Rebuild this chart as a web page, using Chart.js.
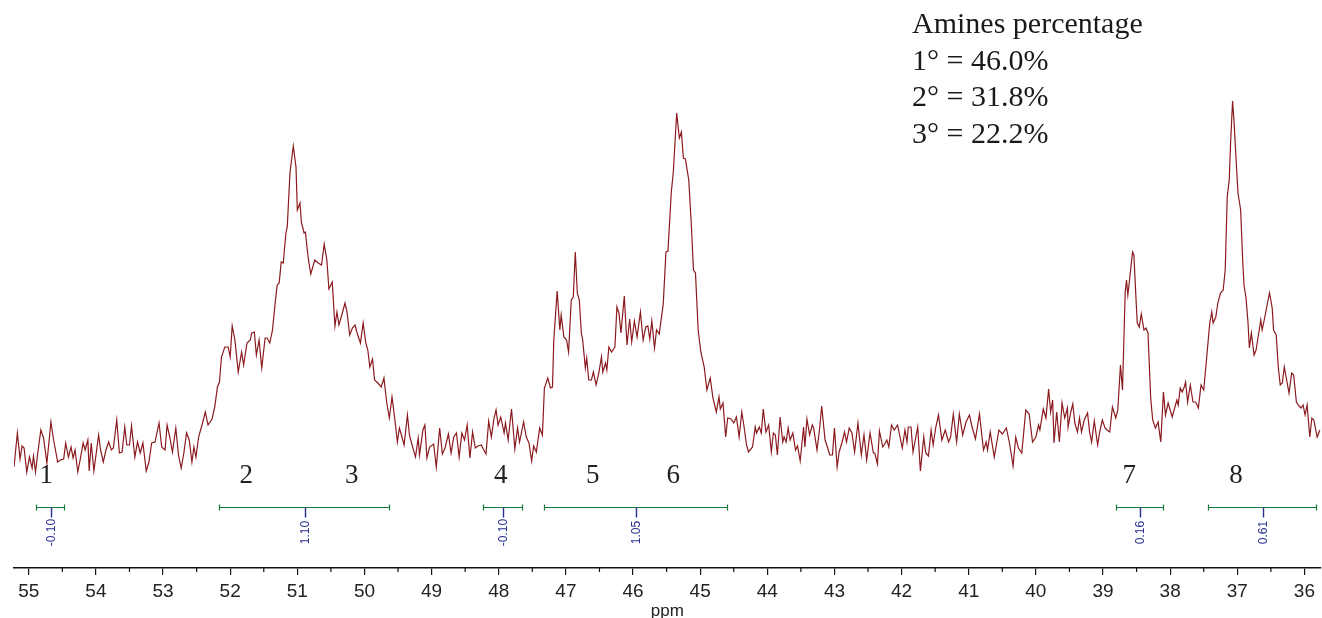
<!DOCTYPE html>
<html>
<head>
<meta charset="utf-8">
<title>13C NMR amines</title>
<script src="https://cdn.jsdelivr.net/npm/chart.js@4"></script>
<style>
  html, body { margin: 0; padding: 0; background: #fff; }
  #wrap { width: 1322px; height: 618px; }
</style>
</head>
<body>
<div id="wrap"><canvas id="nmrChart" width="1322" height="618"></canvas></div>
<script>
// chemical shift (ppm) of each read point, left to right
const ppm = [
  // 55.2 - 52.2 (baseline, start of peaks 2/3)
  55.22, 55.17, 55.13, 55.10, 55.07, 55.03, 54.99, 54.95, 54.93, 54.90,
  54.87, 54.82, 54.78, 54.73, 54.67, 54.63, 54.57, 54.53, 54.48, 54.45,
  54.41, 54.37, 54.34, 54.31, 54.27, 54.23, 54.19, 54.16, 54.12, 54.10,
  54.07, 54.03, 53.96, 53.93, 53.89, 53.85, 53.81, 53.77, 53.74, 53.69,
  53.65, 53.61, 53.57, 53.54, 53.50, 53.47, 53.42, 53.38, 53.34, 53.30,
  53.25, 53.21, 53.17, 53.12, 53.06, 53.02, 52.97, 52.94, 52.90, 52.86,
  52.81, 52.77, 52.73, 52.69, 52.65, 52.61, 52.57, 52.54, 52.51, 52.47,
  52.42, 52.37, 52.33, 52.27, 52.23, 52.19, 52.16,
  // peaks 2 and 3
  52.13, 52.08, 52.03, 52.00, 51.97, 51.93, 51.88, 51.83, 51.80, 51.75,
  51.70, 51.68, 51.64, 51.61, 51.57, 51.53, 51.48, 51.45, 51.41, 51.37,
  51.33, 51.30, 51.27, 51.24, 51.21, 51.17, 51.15, 51.11, 51.06, 51.02,
  51.00, 50.96, 50.94, 50.90, 50.88, 50.84, 50.80, 50.74, 50.69, 50.64,
  50.60, 50.56, 50.53, 50.48, 50.44, 50.41, 50.38, 50.33, 50.29, 50.26,
  50.22, 50.18, 50.14, 50.11, 50.06, 50.02, 49.98, 49.95, 49.92, 49.88,
  49.85, 49.80, 49.75, 49.71, 49.67, 49.63, 49.59, 49.55, 49.51, 49.48,
  49.45, 49.41, 49.36, 49.33, 49.30, 49.24, 49.20, 49.18, 49.13, 49.10,
  49.07, 49.03,
  // region 4
  48.97, 48.93, 48.88, 48.84, 48.80, 48.75, 48.71, 48.67, 48.63, 48.59,
  48.55, 48.51, 48.47, 48.43, 48.39, 48.35, 48.31, 48.26, 48.23, 48.19,
  48.15, 48.11, 48.07, 48.04, 48.01, 47.97, 47.92, 47.90, 47.86, 47.81,
  47.76, 47.72, 47.69, 47.63, 47.59, 47.55, 47.51, 47.48, 47.44, 47.39,
  47.35, 47.32, 47.27, 47.23, 47.20,
  // peaks 5 and 6
  47.18, 47.13, 47.09, 47.07, 47.03, 46.99, 46.96, 46.92, 46.89, 46.86,
  46.83, 46.80, 46.77, 46.75, 46.71, 46.69, 46.66, 46.62, 46.59, 46.55,
  46.51, 46.47, 46.45, 46.41, 46.39, 46.36, 46.32, 46.27, 46.24, 46.21,
  46.18, 46.13, 46.09, 46.05, 46.02, 45.98, 45.94, 45.89, 45.85, 45.81,
  45.78, 45.75, 45.72, 45.68, 45.65, 45.61, 45.55, 45.51, 45.48, 45.43,
  45.40, 45.35, 45.31, 45.28, 45.25, 45.22, 45.17, 45.13, 45.10, 45.07,
  45.03, 44.99, 44.94, 44.90, 44.85, 44.81, 44.76, 44.72, 44.70, 44.66,
  44.62, 44.59, 44.54, 44.50, 44.46, 44.42, 44.38, 44.35, 44.31, 44.28,
  // baseline 44.2 - 41.7
  44.22, 44.18, 44.16, 44.12, 44.09, 44.06, 44.02, 43.98, 43.94, 43.91,
  43.88, 43.85, 43.81, 43.77, 43.75, 43.72, 43.69, 43.66, 43.62, 43.58,
  43.55, 43.51, 43.46, 43.44, 43.41, 43.37, 43.33, 43.31, 43.26, 43.22,
  43.19, 43.14, 43.10, 43.07, 43.03, 43.00, 42.96, 42.93, 42.89, 42.85,
  42.82, 42.78, 42.74, 42.70, 42.65, 42.60, 42.56, 42.52, 42.47, 42.42,
  42.40, 42.36, 42.33, 42.28, 42.26, 42.22, 42.19, 42.15, 42.11, 42.06,
  42.02, 41.99, 41.95, 41.92, 41.90, 41.86, 41.83, 41.76, 41.72,
  // baseline 41.7 - 38.7
  41.67, 41.64, 41.60, 41.56, 41.53, 41.49, 41.45, 41.40, 41.35, 41.30,
  41.27, 41.23, 41.18, 41.14, 41.09, 41.04, 40.99, 40.95, 40.90, 40.84,
  40.78, 40.74, 40.72, 40.68, 40.62, 40.55, 40.50, 40.44, 40.39, 40.34,
  40.30, 40.26, 40.21, 40.15, 40.10, 40.05, 40.00, 39.96, 39.94, 39.89,
  39.85, 39.81, 39.78, 39.75, 39.73, 39.69, 39.65, 39.61, 39.57, 39.53,
  39.52, 39.48, 39.45, 39.42, 39.38, 39.35, 39.32, 39.28, 39.23, 39.20,
  39.17, 39.13, 39.08, 39.05, 39.01, 38.97, 38.94, 38.90, 38.86, 38.81,
  38.78, 38.74, 38.71,
  // peaks 7 and 8
  38.67, 38.65, 38.63, 38.60, 38.56, 38.54, 38.51, 38.49, 38.46, 38.43,
  38.39, 38.36, 38.33, 38.29, 38.26, 38.22, 38.18, 38.14, 38.10, 38.07,
  38.03, 38.00, 37.97, 37.90, 37.88, 37.85, 37.82, 37.79, 37.77, 37.74,
  37.70, 37.66, 37.62, 37.58, 37.54, 37.50, 37.45, 37.41, 37.38, 37.36,
  37.32, 37.29, 37.25, 37.21, 37.18, 37.15, 37.12, 37.10, 37.07, 37.05,
  37.02, 36.99, 36.95, 36.92, 36.90, 36.87, 36.84, 36.82, 36.79, 36.75,
  36.72, 36.69, 36.65, 36.63, 36.59, 36.55, 36.52, 36.48, 36.46, 36.42,
  36.39, 36.36, 36.33, 36.30, 36.27, 36.23, 36.19, 36.16, 36.12, 36.08,
  36.05, 36.02, 35.99, 35.96, 35.92, 35.89, 35.86, 35.81, 35.77
];

// signal intensity (arbitrary units) at each ppm point
const intensity = [
  -12, 22, -4, 9, 7, -17, -2, -13, -1, -17,
  0, 25, 17, -8, 33, 15, -7, -5, -4, 12,
  -2, 8, -3, 5, -17, -3, 12, 5, 15, -16,
  12, -16, 20, 5, -7, 5, 13, 5, 7, 35,
  2, 3, 28, 10, 10, 29, -2, 13, 2, 12,
  -16, -7, 12, 13, 32, 8, 5, 30, 18, 3,
  27, 0, -13, 2, 22, 15, -7, 8, -2, 18,
  30, 43, 30, 36, 48, 68, 73,

  98, 108, 108, 98, 129, 115, 83, 103, 90, 112,
  115, 122, 123, 100, 115, 87, 117, 117, 112, 125,
  152, 170, 172, 193, 192, 222, 228, 282, 309, 288,
  245, 252, 233, 222, 223, 198, 181, 195, 192, 190,
  211, 195, 166, 173, 129, 143, 130, 142, 152, 143,
  120, 127, 130, 122, 112, 132, 112, 105, 88, 96,
  75, 72, 68, 77, 53, 37, 58, 37, 13, 27,
  20, 10, 40, 20, 12, -2, 17, 0, 25, 30,
  -3, 8,

  11, -12, 27, 1, 7, 21, 2, 18, 22, -2,
  22, 15, 30, -3, 23, 7, 9, 10, 6, 1,
  34, 18, 37, 45, 30, 38, 22, 32, 15, 46,
  6, 27, 13, 33, 18, 12, -6, 9, 3, 27,
  20, 67, 77, 67, 68,

  115, 164, 125, 140, 118, 115, 103, 155, 158, 203,
  162, 155, 122, 115, 87, 97, 75, 75, 83, 70,
  82, 98, 83, 92, 85, 108, 103, 108, 148, 142,
  122, 159, 110, 136, 113, 134, 118, 143, 115, 128,
  129, 116, 134, 107, 125, 121, 151, 203, 204, 263,
  283, 342, 317, 323, 297, 296, 275, 228, 185, 182,
  125, 103, 88, 65, 77, 57, 43, 58, 46, 52,
  18, 37, 36, 32, 38, 18, 43, 30, 10, 3,

  8, 28, 22, 28, 22, 46, 23, 30, 3, 22,
  20, 0, 38, 13, 18, 13, 27, 15, 22, 5,
  9, -6, 28, 8, 36, 20, 30, 27, 5, 27,
  49, 15, 7, 0, 0, 27, -12, 3, 12, 23,
  13, 27, 22, 3, 32, 0, 20, -5, 22, 2,
  2, -9, 24, 8, 10, 15, 8, 30, 25, 30,
  17, 7, 25, 13, 28, 28, 3, 28, -16,

  18, 2, -1, 25, 10, 28, 40, 15, 25, 13,
  18, 41, 13, 41, 20, 33, 40, 28, 16, 41,
  5, 13, 5, 23, -2, 25, 21, 27, 11, -11,
  18, 7, 2, 45, 41, 13, 18, 30, 25, 46,
  37, 66, 43, 55, 12, 43, 13, 52, 37, 47,
  28, 43, 51, 32, 23, 37, 23, 35, 42, 23,
  13, 34, 10, 23, 35, 27, 25, 23, 48, 37,
  45, 90, 65,

  162, 175, 160, 178, 203, 200, 158, 132, 128, 141,
  125, 127, 122, 57, 35, 27, 33, 13, 63, 40,
  52, 45, 38, 55, 50, 67, 63, 68, 73, 53,
  70, 53, 53, 47, 70, 65, 102, 132, 143, 132,
  138, 152, 162, 165, 185, 258, 275, 312, 354, 335,
  298, 262, 245, 195, 170, 157, 132, 107, 122, 100,
  105, 118, 135, 125, 138, 152, 162, 147, 125, 120,
  88, 70, 72, 88, 77, 62, 82, 80, 53, 49,
  47, 50, 40, 50, 18, 37, 35, 18, 25
];

// peak numbers written under the trace
const peakNumbers = ['1', '2', '3', '4', '5', '6', '7', '8'];
const peakShifts = [54.74, 51.76, 50.19, 47.97, 46.60, 45.40, 38.61, 37.02];

// integration regions
const integralStart = [54.89, 52.16, 48.24, 47.32, 38.80, 37.43];
const integralEnd = [54.48, 49.63, 47.66, 44.60, 38.11, 35.83];
const integralValues = ['-0.10', '1.10', '-0.10', '1.05', '0.16', '0.61'];

const noteLines = ['Amines percentage', '1\u00b0 = 46.0%', '2\u00b0 = 31.8%', '3\u00b0 = 22.2%'];

const serifFont = '"Liberation Serif", "Times New Roman", serif';
const sansFont = '"Liberation Sans", Arial, sans-serif';

// extra drawing: minor ticks, peak numbers, integrals, note
const nmrExtras = {
  id: 'nmrExtras',
  afterDraw(chart) {
    const { ctx, scales: { x, y } } = chart;
    const snap = v => Math.round(v) + 0.5;
    ctx.save();

    // half-ppm minor ticks
    ctx.strokeStyle = '#111';
    ctx.lineWidth = 1.2;
    for (let v = Math.ceil(x.min * 2) / 2; v <= x.max; v += 0.5) {
      if (Number.isInteger(v)) continue;
      const px = x.getPixelForValue(v);
      ctx.beginPath();
      ctx.moveTo(px, x.top);
      ctx.lineTo(px, x.top + 4);
      ctx.stroke();
    }

    // peak numbers
    ctx.font = '27px ' + serifFont;
    ctx.fillStyle = '#222';
    ctx.textAlign = 'center';
    ctx.textBaseline = 'alphabetic';
    const numY = y.getPixelForValue(-28);
    peakNumbers.forEach((n, i) => ctx.fillText(n, x.getPixelForValue(peakShifts[i]), numY));

    // integral bars
    const barY = snap(y.getPixelForValue(-52));
    integralValues.forEach((val, i) => {
      const x1 = snap(x.getPixelForValue(integralStart[i]));
      const x2 = snap(x.getPixelForValue(integralEnd[i]));
      const cx = snap((x1 + x2) / 2);
      ctx.strokeStyle = '#157a3c';
      ctx.lineWidth = 1.2;
      ctx.beginPath();
      ctx.moveTo(x1, barY); ctx.lineTo(x2, barY);
      ctx.moveTo(x1, barY - 3); ctx.lineTo(x1, barY + 3);
      ctx.moveTo(x2, barY - 3); ctx.lineTo(x2, barY + 3);
      ctx.stroke();
      ctx.strokeStyle = '#262f8c';
      ctx.lineWidth = 1.4;
      ctx.beginPath();
      ctx.moveTo(cx, barY); ctx.lineTo(cx, barY + 10);
      ctx.stroke();
      ctx.save();
      ctx.translate(cx, barY + 25);
      ctx.rotate(-Math.PI / 2);
      ctx.font = '12px ' + sansFont;
      ctx.fillStyle = '#262f8c';
      ctx.textAlign = 'center';
      ctx.textBaseline = 'middle';
      ctx.fillText(val, 0, 0);
      ctx.restore();
    });

    // note in the upper right
    ctx.font = '30px ' + serifFont;
    ctx.fillStyle = '#1a1a1a';
    ctx.textAlign = 'left';
    ctx.textBaseline = 'alphabetic';
    noteLines.forEach((line, i) => ctx.fillText(line, 912, 33 + i * 36.5));

    ctx.restore();
  }
};

const ctx = document.getElementById('nmrChart').getContext('2d');
new Chart(ctx, {
  type: 'line',
  data: {
    datasets: [{
      label: 'spectrum',
      data: ppm.map((p, i) => ({ x: p, y: intensity[i] })),
      borderColor: '#8b1a1f',
      borderWidth: 1.2,
      pointRadius: 0,
      tension: 0,
      fill: false
    }]
  },
  options: {
    responsive: false,
    animation: false,
    devicePixelRatio: 1,
    layout: { padding: { left: 14, right: 0, top: 0, bottom: 0 } },
    plugins: {
      legend: { display: false },
      tooltip: { enabled: false }
    },
    scales: {
      x: {
        type: 'linear',
        reverse: true,
        min: 35.756,
        max: 55.22,
        afterFit: scale => { scale.height = 50; },
        border: { display: true, color: '#111', width: 1.5 },
        grid: { drawOnChartArea: false, drawTicks: true, tickLength: 7, color: '#111', lineWidth: 1.2 },
        ticks: {
          stepSize: 1,
          includeBounds: false,
          autoSkip: false,
          maxRotation: 0,
          padding: 7,
          color: '#222',
          font: { family: sansFont, size: 19, lineHeight: 1 }
        },
        title: {
          display: true,
          text: 'ppm',
          color: '#222',
          font: { family: sansFont, size: 17, lineHeight: 1 },
          padding: { top: 0, bottom: -2 }
        }
      },
      y: { display: false, min: -113, max: 455 }
    }
  },
  plugins: [nmrExtras]
});
</script>
</body>
</html>
